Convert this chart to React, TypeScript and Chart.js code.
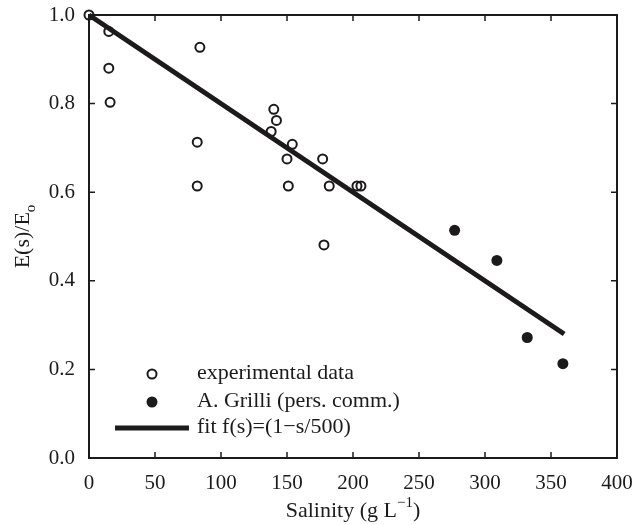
import React, { useEffect, useRef } from "react";
import { Chart, registerables } from "chart.js";
Chart.register(...registerables);

const expX = [0, 15, 15, 16, 84, 82, 82, 140, 142, 138, 154, 150, 151, 177, 182, 178, 203, 206];
const expY = [1.0, 0.963, 0.88, 0.803, 0.927, 0.713, 0.614, 0.787, 0.762, 0.737, 0.708, 0.675, 0.614, 0.675, 0.614, 0.481, 0.614, 0.614];
const grilliX = [277, 309, 332, 359];
const grilliY = [0.514, 0.446, 0.272, 0.213];
const fitX = [0, 360];
const fitY = [1.0, 0.28];
const xTicks = [0, 50, 100, 150, 200, 250, 300, 350, 400];
const yTicks = [0.0, 0.2, 0.4, 0.6, 0.8, 1.0];
const legendLabels = ["experimental data", "A. Grilli (pers. comm.)", "fit f(s)=(1\u2212s/500)"];

const INK = "#1c1a1b";
const FONT = '"Liberation Serif", "Times New Roman", serif';

const framePlugin = {
  id: "frame",
  beforeDatasetsDraw(chart: any) {
    const { ctx, chartArea: a, scales } = chart;
    ctx.save();
    ctx.strokeStyle = INK;
    ctx.lineWidth = 2;
    ctx.strokeRect(a.left, a.top, a.right - a.left, a.bottom - a.top);
    ctx.lineWidth = 1.5;
    const tl = 6;
    for (const v of xTicks) {
      const px = scales.x.getPixelForValue(v);
      ctx.beginPath();
      ctx.moveTo(px, a.bottom);
      ctx.lineTo(px, a.bottom - tl);
      ctx.moveTo(px, a.top);
      ctx.lineTo(px, a.top + tl);
      ctx.stroke();
    }
    for (const v of yTicks) {
      const py = scales.y.getPixelForValue(v);
      ctx.beginPath();
      ctx.moveTo(a.left, py);
      ctx.lineTo(a.left + tl, py);
      ctx.moveTo(a.right, py);
      ctx.lineTo(a.right - tl, py);
      ctx.stroke();
    }
    ctx.restore();
  },
  afterDraw(chart: any) {
    const { ctx, chartArea: a } = chart;
    ctx.save();
    ctx.fillStyle = INK;
    ctx.strokeStyle = INK;
    ctx.textBaseline = "alphabetic";
    ctx.textAlign = "left";
    // x title
    const main = "Salinity (g L";
    const sup = "\u22121";
    const close = ")";
    ctx.font = `22px ${FONT}`;
    const w1 = ctx.measureText(main).width;
    const w3 = ctx.measureText(close).width;
    ctx.font = `15px ${FONT}`;
    const w2 = ctx.measureText(sup).width;
    const total = w1 + w2 + w3;
    const cx = (a.left + a.right) / 2;
    const x0 = cx - total / 2;
    const by = 517;
    ctx.font = `22px ${FONT}`;
    ctx.fillText(main, x0, by);
    ctx.font = `15px ${FONT}`;
    ctx.fillText(sup, x0 + w1, by - 10);
    ctx.font = `22px ${FONT}`;
    ctx.fillText(close, x0 + w1 + w2, by);

    // y title
    ctx.save();
    ctx.translate(29, (a.top + a.bottom) / 2);
    ctx.rotate(-Math.PI / 2);
    const ym = "E(s)/E";
    const ys = "o";
    ctx.font = `22px ${FONT}`;
    const yw1 = ctx.measureText(ym).width;
    ctx.font = `15px ${FONT}`;
    const yw2 = ctx.measureText(ys).width;
    const yx0 = -(yw1 + yw2) / 2;
    ctx.font = `22px ${FONT}`;
    ctx.fillText(ym, yx0, 0);
    ctx.font = `15px ${FONT}`;
    ctx.fillText(ys, yx0 + yw1, 6);
    ctx.restore();

    // legend
    const lx = 152;
    const rows = [374, 402, 428];
    ctx.font = `22px ${FONT}`;
    ctx.textBaseline = "middle";
    ctx.lineWidth = 2;
    ctx.beginPath();
    ctx.arc(lx, rows[0], 4.5, 0, Math.PI * 2);
    ctx.fillStyle = "#fff";
    ctx.fill();
    ctx.stroke();
    ctx.fillStyle = INK;
    ctx.beginPath();
    ctx.arc(lx, rows[1], 5.5, 0, Math.PI * 2);
    ctx.fill();
    ctx.lineWidth = 5;
    ctx.beginPath();
    ctx.moveTo(115, rows[2]);
    ctx.lineTo(189, rows[2]);
    ctx.stroke();
    for (let i = 0; i < legendLabels.length; i++) {
      ctx.fillText(legendLabels[i], 197, rows[i] - 1);
    }
    ctx.restore();
  },
};

export default function App() {
  const ref = useRef<HTMLCanvasElement>(null);
  useEffect(() => {
    if (!ref.current) return;
    const chart = new Chart(ref.current, {
      type: "scatter",
      data: {
        datasets: [
          {
            type: "line",
            label: legendLabels[2],
            data: fitX.map((x, i) => ({ x, y: fitY[i] })),
            borderColor: INK,
            borderWidth: 5,
            pointRadius: 0,
            showLine: true,
            clip: false as any,
          },
          {
            label: legendLabels[0],
            data: expX.map((x, i) => ({ x, y: expY[i] })),
            pointRadius: 4.5,
            pointBorderWidth: 2,
            pointBorderColor: INK,
            pointBackgroundColor: "rgba(255,255,255,0)",
            clip: false as any,
          },
          {
            label: legendLabels[1],
            data: grilliX.map((x, i) => ({ x, y: grilliY[i] })),
            pointRadius: 5.5,
            pointBorderWidth: 0,
            pointBackgroundColor: INK,
            pointBorderColor: INK,
            clip: false as any,
          },
        ],
      },
      options: {
        responsive: false,
        animation: false,
        layout: { padding: { left: 0, top: 15, right: 19, bottom: 0 } },
        plugins: { legend: { display: false }, tooltip: { enabled: false } },
        scales: {
          x: {
            type: "linear",
            min: 0,
            max: 400,
            grid: { display: false },
            border: { display: false },
            afterBuildTicks: (s: any) => {
              s.ticks = xTicks.map((v) => ({ value: v }));
            },
            afterFit: (s: any) => {
              s.height = 67;
              s.paddingLeft = 0;
              s.paddingRight = 0;
            },
            ticks: {
              color: INK,
              font: { family: FONT, size: 21 },
              padding: 5,
              maxRotation: 0,
              autoSkip: false,
            },
          },
          y: {
            type: "linear",
            min: 0,
            max: 1,
            grid: { display: false },
            border: { display: false },
            afterBuildTicks: (s: any) => {
              s.ticks = yTicks.map((v) => ({ value: v }));
            },
            afterFit: (s: any) => {
              s.width = 89;
              s.paddingTop = 0;
              s.paddingBottom = 0;
            },
            ticks: {
              color: INK,
              font: { family: FONT, size: 21 },
              padding: 6,
              autoSkip: false,
              callback: (v: any) => Number(v).toFixed(1),
            },
          },
        },
      },
      plugins: [framePlugin],
    } as any);
    return () => chart.destroy();
  }, []);
  return (
    <div style={{ position: "absolute", left: 0, top: 0, width: 636, height: 525, background: "#fff" }}>
      <canvas ref={ref} width={636} height={525} />
    </div>
  );
}
